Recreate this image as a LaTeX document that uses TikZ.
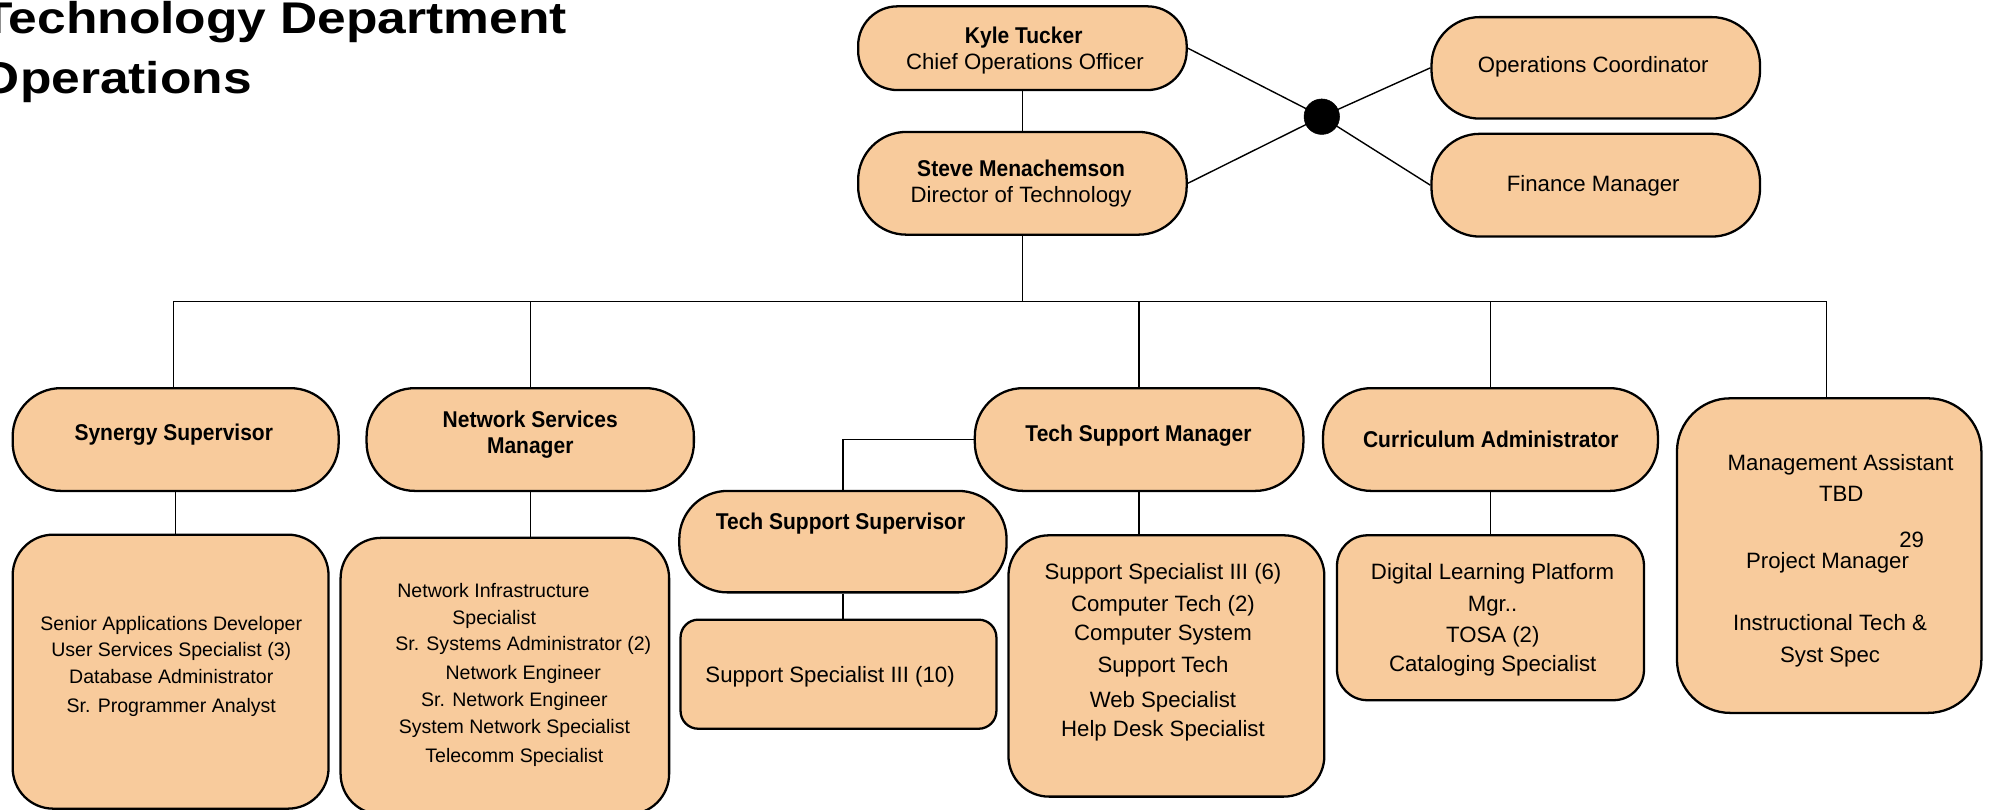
\documentclass[tikz,border=0pt]{standalone}
\usepackage{fontspec}
\setmainfont{Liberation Sans}
\newfontfamily\hdfont[FakeStretch=0.92]{Liberation Sans}
\newfontfamily\ttlfont[FakeStretch=1.16]{Liberation Sans}
\definecolor{peach}{HTML}{F8CB9C}
\tikzset{
  shp/.style={draw=black, line width=1.8pt, fill=peach, inner sep=0pt, rectangle},
  conn/.style={draw=black, line width=1.1pt},
  hd/.style={inner sep=0pt, font=\hdfont\bfseries\fontsize{18}{20}\selectfont, text height=13pt, text depth=0pt},
  tx/.style={inner sep=0pt, font=\fontsize{17.5}{21}\selectfont, text height=12.6pt, text depth=0pt},
  sm/.style={inner sep=0pt, font=\fontsize{15.4}{19}\selectfont, text height=11.1pt, text depth=0pt},
  ttl/.style={anchor=base west, inner sep=0pt, font=\ttlfont\bfseries\fontsize{35}{42}\selectfont}
}
\begin{document}
\begin{tikzpicture}[x=1pt,y=-1pt]
\useasboundingbox (0,0) rectangle (1568,638.5);
% title
\node[ttl] (title1) at (-15,26.3) {Technology Department};
\node[ttl] (title2) at (-16,73.6) {Operations};
% boxes
\node[shp, rounded corners=31pt, minimum width=259pt, minimum height=66pt] (kyle) at (806,38) {};
\node[shp, rounded corners=38pt, minimum width=259pt, minimum height=81pt] (steve) at (806,144.5) {};
\node[shp, rounded corners=38pt, minimum width=259pt, minimum height=80pt] (opc) at (1258,53.5) {};
\node[shp, rounded corners=38pt, minimum width=259pt, minimum height=81pt] (fin) at (1258,146) {};
\node[circle, fill=black, draw=black, minimum size=28pt, inner sep=0pt] (dot) at (1042,92) {};
\node[shp, rounded corners=38pt, minimum width=257pt, minimum height=81pt] (syn) at (138.5,346.5) {};
\node[shp, rounded corners=38pt, minimum width=258pt, minimum height=81pt] (net) at (418,346.5) {};
\node[shp, rounded corners=38pt, minimum width=259pt, minimum height=81pt] (tsm) at (898,346.5) {};
\node[shp, rounded corners=38pt, minimum width=264pt, minimum height=81pt] (cur) at (1175,346.5) {};
\node[shp, rounded corners=42pt, minimum width=240pt, minimum height=248pt] (mgmt) at (1442,438) {};
\node[shp, rounded corners=38pt, minimum width=258pt, minimum height=80pt] (tss) at (664.5,427) {};
\node[shp, rounded corners=32pt, minimum width=249pt, minimum height=216pt] (synL) at (134.5,529.5) {};
\node[shp, rounded corners=32pt, minimum width=259pt, minimum height=218pt] (netL) at (398,533) {};
\node[shp, rounded corners=14pt, minimum width=249pt, minimum height=86pt] (ss10) at (661,531.5) {};
\node[shp, rounded corners=32pt, minimum width=249pt, minimum height=206pt] (tsmL) at (919.5,525) {};
\node[shp, rounded corners=24pt, minimum width=242pt, minimum height=130pt] (curL) at (1175,487) {};
% connectors
\coordinate (busL) at (137,237.5);
\coordinate (busR) at (1440,237.5);
\draw[conn] (kyle.south) -- (steve.north);
\draw[conn] (kyle.east) -- (dot.center);
\draw[conn] (steve.east) -- (dot.center);
\draw[conn] (dot.center) -- (opc.west);
\draw[conn] (dot.center) -- (fin.west);
\draw[conn] (steve.south) -- (steve.south |- busL);
\draw[conn] (busL) -- (busR);
\draw[conn] (busL) -- (busL |- syn.north);
\draw[conn] (net.north |- busL) -- (net.north);
\draw[conn] (tsm.north |- busL) -- (tsm.north);
\draw[conn] (cur.north |- busL) -- (cur.north);
\draw[conn] (busR) -- (busR |- mgmt.north);
\draw[conn] (tsm.west) -| (tss.north);
\draw[conn] (syn.south) -- (syn.south |- synL.north);
\draw[conn] (net.south) -- (net.south |- netL.north);
\draw[conn] (tss.south) -- (tss.south |- ss10.north);
\draw[conn] (tsm.south) -- (tsm.south |- tsmL.north);
\draw[conn] (cur.south) -- (cur.south |- curL.north);
% texts
\node[hd] (kyleN) at (807,27.6) {Kyle Tucker};
\node[tx] (kyleR) at (808,48.6) {Chief Operations Officer};
\node[hd] (steveN) at (805,133) {Steve Menachemson};
\node[tx] (steveR) at (805,153.7) {Director of Technology};
\node[tx] (opcT) at (1256,50.7) {Operations Coordinator};
\node[tx] (finT) at (1256,145) {Finance Manager};
\node[hd] (synT) at (137,341) {Synergy Supervisor};
\node[hd] (netT1) at (418,330.4) {Network Services};
\node[hd] (netT2) at (418,350.7) {Manager};
\node[hd] (tsmT) at (897.5,341.5) {Tech Support Manager};
\node[hd] (curT) at (1175.3,346.2) {Curriculum Administrator};
\node[hd] (tssT) at (662.6,411) {Tech Support Supervisor};
\node[sm] (synL1) at (135,491.2) {Senior Applications Developer};
\node[sm] (synL2) at (135,511.9) {User Services Specialist (3)};
\node[sm] (synL3) at (135,533.4) {Database Administrator};
\node[sm] (synL4) at (135,556.3) {Sr. Programmer Analyst};
\node[sm] (netL1) at (389,465.7) {Network Infrastructure};
\node[sm] (netL2) at (389.6,486.7) {Specialist};
\node[sm] (netL3) at (412.5,507.5) {Sr. Systems Administrator (2)};
\node[sm] (netL4) at (412.5,530) {Network Engineer};
\node[sm] (netL5) at (405.5,551.6) {Sr. Network Engineer};
\node[sm] (netL6) at (405.5,573) {System Network Specialist};
\node[sm] (netL7) at (405.5,595.7) {Telecomm Specialist};
\node[tx] (ss10T) at (654.4,532) {Support Specialist III (10)};
\node[tx] (tsmL1) at (916.8,450.5) {Support Specialist III (6)};
\node[tx] (tsmL2) at (916.8,475.4) {Computer Tech (2)};
\node[tx] (tsmL3) at (916.8,499) {Computer System};
\node[tx] (tsmL4) at (916.8,524) {Support Tech};
\node[tx] (tsmL5) at (916.8,551.6) {Web Specialist};
\node[tx] (tsmL6) at (916.8,574.7) {Help Desk Specialist};
\node[tx] (curL1) at (1176.6,450.5) {Digital Learning Platform};
\node[tx] (curL2) at (1176.6,475.4) {Mgr..};
\node[tx] (curL3) at (1176.8,500.4) {TOSA (2)};
\node[tx] (curL4) at (1176.8,523.2) {Cataloging Specialist};
\node[tx] (mgmt1) at (1451,364.6) {Management Assistant};
\node[tx] (mgmt2) at (1451.5,388.7) {TBD};
\node[tx] (mgmt29) at (1507,425.5) {29};
\node[tx] (mgmtPM) at (1440.7,442) {Project Manager};
\node[tx] (mgmtIT1) at (1442.7,490.7) {Instructional Tech \&};
\node[tx] (mgmtIT2) at (1442.7,516) {Syst Spec};
\end{tikzpicture}
\end{document}
